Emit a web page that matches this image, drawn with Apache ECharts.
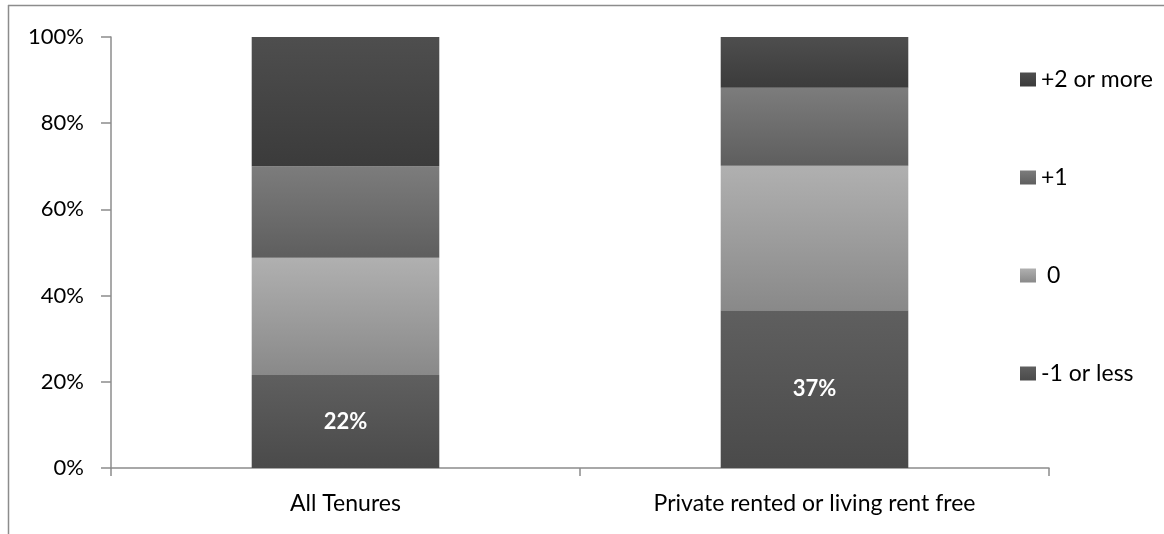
<!DOCTYPE html>
<html>
<head>
<meta charset="utf-8">
<script src="https://cdn.jsdelivr.net/npm/echarts@6/dist/echarts.min.js"></script>
<style>
html,body{margin:0;padding:0;background:#fff;}
#chart{width:1164px;height:534px;}
</style>
</head>
<body>
<div id="chart"></div>
<script>
const categories = ['All Tenures', 'Private rented or living rent free'];
const seriesNames = ['-1 or less', ' 0', '+1', '+2 or more'];
const minusOneOrLess = [21.6, 36.6];
const zeroChange = [27.2, 33.5];
const plusOne = [21.2, 18.1];
const plusTwoOrMore = [30.0, 11.8];
const yTicks = [0, 20, 40, 60, 80, 100];

const FONT = 'Lato';
function grad(top, bottom) {
  return new echarts.graphic.LinearGradient(0, 0, 0, 1, [
    {offset: 0, color: top}, {offset: 1, color: bottom}
  ]);
}
const colors = [
  grad('#5f5f5f', '#4a4a4a'),
  grad('#b0b0b0', '#898989'),
  grad('#7c7c7c', '#5e5e5e'),
  grad('#4e4e4e', '#3b3b3b')
];
const values = [minusOneOrLess, zeroChange, plusOne, plusTwoOrMore];

const chart = echarts.init(document.getElementById('chart'), null, {renderer: 'canvas'});
const axisColor = '#8c8c8c';
chart.setOption({
  animation: false,
  backgroundColor: '#fff',
  textStyle: {fontFamily: FONT},
  grid: {left: 111, right: 115, top: 37, bottom: 66, containLabel: false},
  legend: {
    orient: 'vertical',
    left: 1015,
    top: 63,
    itemWidth: 16,
    itemHeight: 14,
    itemGap: 75,
    data: ['+2 or more', '+1', ' 0', '-1 or less'],
    textStyle: {fontFamily: FONT, fontSize: 23, color: '#000', lineHeight: 23, padding: [0, 0, 0, 0]},
    icon: 'rect'
  },
  xAxis: {
    type: 'category',
    data: categories,
    axisLine: {lineStyle: {color: axisColor, width: 1.5}},
    axisTick: {show: true, length: 8, lineStyle: {color: axisColor, width: 1.5}},
    axisLabel: {fontFamily: FONT, fontSize: 23, color: '#000', margin: 24}
  },
  yAxis: {
    type: 'value',
    min: yTicks[0],
    max: yTicks[yTicks.length - 1],
    interval: yTicks[1] - yTicks[0],
    splitLine: {show: false},
    axisLine: {show: true, lineStyle: {color: axisColor, width: 1.5}},
    axisTick: {show: true, length: 10, lineStyle: {color: axisColor, width: 1.5}},
    axisLabel: {fontFamily: FONT, fontSize: 22, color: '#000', margin: 27, formatter: '{value}%'}
  },
  series: seriesNames.map((name, i) => ({
    name: name,
    type: 'bar',
    stack: 'total',
    barWidth: '40%',
    data: values[i],
    itemStyle: {color: colors[i]},
    label: i === 0 ? {
      show: true,
      position: 'inside',
      color: '#fff',
      fontFamily: FONT,
      fontWeight: 'bold',
      fontSize: 22,
      formatter: p => Math.round(p.value) + '%'
    } : {show: false}
  })),
  graphic: [
    {type: 'line', shape: {x1: 8.5, y1: 5, x2: 8.5, y2: 534}, style: {stroke: '#8c8c8c', lineWidth: 1.5}},
    {type: 'line', shape: {x1: 8, y1: 5.5, x2: 1164, y2: 5.5}, style: {stroke: '#8c8c8c', lineWidth: 1.5}}
  ]
});
</script>
</body>
</html>
